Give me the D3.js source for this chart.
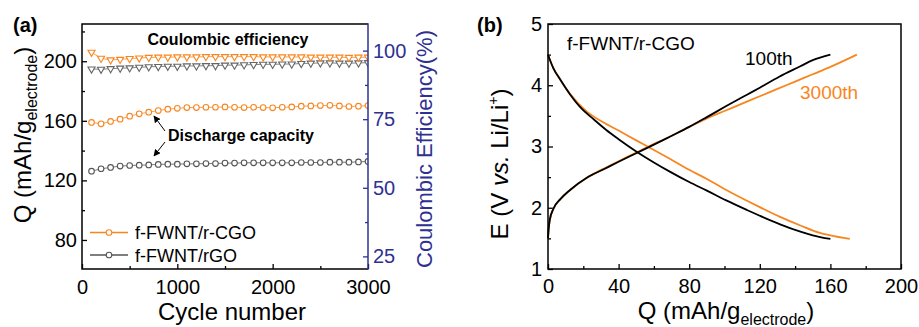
<!DOCTYPE html>
<html>
<head>
<meta charset="utf-8">
<script src="https://cdn.jsdelivr.net/npm/d3@7"></script>
<style>
  body { margin: 0; background: #fff; }
  text { font-family: "Liberation Sans", Arial, sans-serif; }
</style>
</head>
<body>
<svg id="chart" width="919" height="327"></svg>
<script>
// ---- panel (a) data: cycling ----
var cycles = [100, 200, 300, 400, 500, 600, 700, 800, 900, 1000,
  1100, 1200, 1300, 1400, 1500, 1600, 1700, 1800, 1900, 2000,
  2100, 2200, 2300, 2400, 2500, 2600, 2700, 2800, 2900, 3000];
var capCGO = [158.9, 158.0, 159.6, 161.1, 163.1, 164.7, 165.8, 166.9, 167.8, 168.4,
  168.9, 168.9, 169.1, 169.1, 169.3, 169.1, 168.9, 169.1, 168.9, 168.7,
  169.1, 169.3, 169.8, 170.0, 170.2, 170.4, 170.0, 169.6, 169.8, 170.2];
var capRGO = [126.2, 127.8, 128.7, 129.6, 130.0, 130.2, 130.4, 130.7, 130.9, 130.9,
  131.1, 131.1, 131.3, 131.3, 131.6, 131.6, 131.8, 131.8, 131.8, 131.8,
  131.8, 131.8, 132.0, 132.0, 132.0, 132.2, 132.2, 132.2, 132.4, 132.7];
var ceCGO = [99.4, 97.2, 96.6, 96.8, 97.1, 97.3, 97.5, 97.6, 97.6, 97.7,
  97.7, 97.7, 97.8, 97.8, 97.8, 97.8, 97.8, 97.8, 97.7, 97.7,
  97.7, 97.7, 97.7, 97.6, 97.6, 97.6, 97.6, 97.5, 97.6, 97.6];
var ceRGO = [93.3, 93.2, 93.4, 93.6, 93.7, 93.9, 94.1, 94.2, 94.3, 94.3,
  94.4, 94.4, 94.5, 94.5, 94.7, 94.7, 94.8, 94.9, 95.0, 95.0,
  95.1, 95.1, 95.3, 95.4, 95.5, 95.5, 95.4, 95.4, 95.5, 95.6];

var cycleTicks = [0, 1000, 2000, 3000];
var capTicks = [80, 120, 160, 200];
var ceTicks = [25, 50, 75, 100];

// ---- panel (b) data: voltage profiles [Q, E] ----
var charge100 = [[0, 1.5], [0.4, 1.66], [1, 1.8], [3, 1.98], [7, 2.14], [12.5, 2.29], [22, 2.49],
  [31, 2.62], [40, 2.75], [50, 2.89], [60, 3.03], [69, 3.16], [80, 3.32], [90, 3.48],
  [101, 3.66], [113, 3.85], [120, 3.96], [131, 4.14], [143, 4.31], [150, 4.41], [160, 4.5]];
var discharge100 = [[0, 4.5], [1, 4.42], [3, 4.28], [7, 4.09], [12.5, 3.85], [18, 3.65], [26, 3.44],
  [33, 3.27], [40, 3.12], [50, 2.92], [60, 2.74], [69, 2.59], [80, 2.42], [90, 2.28],
  [101, 2.12], [113, 1.96], [120, 1.87], [131.5, 1.73], [143, 1.61], [150, 1.55], [160, 1.49]];
var charge3000 = [[0, 1.5], [0.4, 1.66], [1, 1.8], [3, 1.98], [7, 2.14], [12.5, 2.29], [22, 2.49],
  [31, 2.63], [40, 2.76], [50, 2.9], [57, 3.0], [69, 3.16], [80, 3.32], [90, 3.46],
  [100, 3.58], [110, 3.7], [120, 3.82], [130, 3.94], [140, 4.06], [150, 4.18], [160, 4.3], [175, 4.5]];
var discharge3000 = [[0, 4.5], [1, 4.42], [3, 4.28], [7, 4.09], [12.5, 3.86], [22, 3.57],
  [31, 3.4], [40, 3.26], [50, 3.1], [57, 2.99], [69, 2.8], [80, 2.62], [90, 2.47],
  [101, 2.29], [113, 2.11], [120, 2.01], [131.5, 1.85], [143, 1.71], [154, 1.59], [160, 1.55], [171, 1.49]];

var qTicks = [0, 40, 80, 120, 160, 200];
var eTicks = [1, 2, 3, 4, 5];

var orange = "#f7861f", grey = "#555", blue = "#2e3192";
var fmt = d3.format("d");

var svg = d3.select("#chart");

// arrow head
svg.append("defs").append("marker")
  .attr("id", "arr").attr("viewBox", "0 0 10 10")
  .attr("refX", 9).attr("refY", 5)
  .attr("markerWidth", 7).attr("markerHeight", 7)
  .attr("orient", "auto")
  .append("path").attr("d", "M0,0L10,5L0,10z").attr("fill", "#000");

// =========== panel (a) ===========
var xA = d3.scaleLinear().domain([0, 3000]).range([82, 368]);
var yA = d3.scaleLinear().domain([60.5, 225]).range([269, 24]);
var yCE = d3.scaleLinear().domain([20.4, 109.7]).range([269, 24]);

svg.append("clipPath").attr("id", "clipA")
  .append("rect").attr("x", 82).attr("y", 24).attr("width", 286).attr("height", 245);

function styleAxis(g, size, color) {
  g.select(".domain").remove();
  g.selectAll("line").attr("stroke", color).attr("stroke-width", 1.3);
  g.selectAll("text").attr("font-size", size).attr("fill", color)
    .style("font-family", '"Liberation Sans", Arial, sans-serif');
}

// minor ticks
svg.append("g").attr("transform", "translate(0,269)")
  .call(d3.axisBottom(xA).tickValues([500, 1500, 2500]).tickFormat("").tickSize(-3))
  .call(styleAxis, 20, "#000");
svg.append("g").attr("transform", "translate(82,0)")
  .call(d3.axisLeft(yA).tickValues([100, 140, 180, 220]).tickFormat("").tickSize(-3))
  .call(styleAxis, 20, "#000");
svg.append("g").attr("transform", "translate(368,0)")
  .call(d3.axisRight(yCE).tickValues([37.5, 62.5, 87.5]).tickFormat("").tickSize(-3))
  .call(styleAxis, 20, blue);

// major ticks
svg.append("g").attr("transform", "translate(0,269)")
  .call(d3.axisBottom(xA).tickValues(cycleTicks).tickFormat(fmt).tickSize(-5).tickPadding(11))
  .call(styleAxis, 20, "#000");
svg.append("g").attr("transform", "translate(82,0)")
  .call(d3.axisLeft(yA).tickValues(capTicks).tickFormat(fmt).tickSize(-5).tickPadding(5))
  .call(styleAxis, 20, "#000");
svg.append("g").attr("transform", "translate(368,0)")
  .call(d3.axisRight(yCE).tickValues(ceTicks).tickFormat(fmt).tickSize(-5).tickPadding(5))
  .call(styleAxis, 20, blue);

// data
var plotA = svg.append("g").attr("clip-path", "url(#clipA)");

function series(g, vals, yScale, color, kind) {
  var pts = cycles.map(function(c, i) { return [xA(c), yScale(vals[i])]; });
  g.append("path").attr("d", d3.line()(pts))
    .attr("fill", "none").attr("stroke", color).attr("stroke-width", 0.8);
  if (kind === "circle") {
    g.selectAll(null).data(pts).enter().append("circle")
      .attr("cx", function(d) { return d[0]; }).attr("cy", function(d) { return d[1]; })
      .attr("r", 2.8).attr("fill", "#fff").attr("stroke", color).attr("stroke-width", 1.1);
  } else {
    g.selectAll(null).data(pts).enter().append("path")
      .attr("d", d3.symbol().type(d3.symbolTriangle).size(22))
      .attr("transform", function(d) { return "translate(" + d[0] + "," + d[1] + ") rotate(180)"; })
      .attr("fill", "#fff").attr("stroke", color).attr("stroke-width", 1.1);
  }
}
series(plotA, capRGO, yA, grey, "circle");
series(plotA, capCGO, yA, orange, "circle");
series(plotA, ceRGO, yCE, "#666", "tri");
series(plotA, ceCGO, yCE, orange, "tri");

// frame
svg.append("path").attr("d", "M368,24H82V269H368")
  .attr("fill", "none").attr("stroke", "#000").attr("stroke-width", 1.5);
svg.append("line").attr("x1", 368).attr("x2", 368).attr("y1", 23.3).attr("y2", 269.7)
  .attr("stroke", blue).attr("stroke-width", 1.5);

// annotations
svg.append("text").attr("x", 228).attr("y", 45).attr("text-anchor", "middle")
  .attr("font-size", 16).attr("font-weight", "bold").text("Coulombic efficiency");
svg.append("text").attr("x", 168).attr("y", 141)
  .attr("font-size", 16).attr("font-weight", "bold").text("Discharge capacity");
svg.append("line").attr("x1", 165).attr("y1", 131).attr("x2", 154).attr("y2", 116)
  .attr("stroke", "#000").attr("stroke-width", 1).attr("marker-end", "url(#arr)");
svg.append("line").attr("x1", 165).attr("y1", 142).attr("x2", 154).attr("y2", 156)
  .attr("stroke", "#000").attr("stroke-width", 1).attr("marker-end", "url(#arr)");

// legend
var legendA = [["f-FWNT/r-CGO", orange, 232.5], ["f-FWNT/rGO", grey, 255]];
legendA.forEach(function(l) {
  svg.append("line").attr("x1", 90).attr("x2", 128).attr("y1", l[2]).attr("y2", l[2])
    .attr("stroke", l[1]).attr("stroke-width", 1.5);
  svg.append("circle").attr("cx", 109).attr("cy", l[2]).attr("r", 2.8)
    .attr("fill", "#fff").attr("stroke", l[1]).attr("stroke-width", 1.1);
  svg.append("text").attr("x", 135).attr("y", l[2] + 6.5).attr("font-size", 18).text(l[0]);
});

// axis titles
svg.append("text").attr("x", 232).attr("y", 320).attr("text-anchor", "middle")
  .attr("font-size", 24).text("Cycle number");
var tq = svg.append("text").attr("transform", "translate(31,135) rotate(-90)")
  .attr("text-anchor", "middle").attr("font-size", 24);
tq.append("tspan").text("Q (mAh/g");
tq.append("tspan").attr("font-size", 16).attr("dy", 6).text("electrode");
tq.append("tspan").attr("dy", -6).text(")");
svg.append("text").attr("transform", "translate(432,149) rotate(-90)")
  .attr("text-anchor", "middle").attr("font-size", 22).attr("fill", blue)
  .text("Coulombic Efficiency(%)");
svg.append("text").attr("x", 13).attr("y", 32).attr("font-size", 20)
  .attr("font-weight", "bold").text("(a)");

// =========== panel (b) ===========
var xB = d3.scaleLinear().domain([0, 200]).range([548, 901]);
var yB = d3.scaleLinear().domain([1, 5]).range([269, 24]);

svg.append("g").attr("transform", "translate(0,269)")
  .call(d3.axisBottom(xB).tickValues([20, 60, 100, 140, 180]).tickFormat("").tickSize(-3))
  .call(styleAxis, 20, "#000");
svg.append("g").attr("transform", "translate(548,0)")
  .call(d3.axisLeft(yB).tickValues([1.5, 2.5, 3.5, 4.5]).tickFormat("").tickSize(-3))
  .call(styleAxis, 20, "#000");
svg.append("g").attr("transform", "translate(0,269)")
  .call(d3.axisBottom(xB).tickValues(qTicks).tickFormat(fmt).tickSize(-5).tickPadding(10))
  .call(styleAxis, 20, "#000");
svg.append("g").attr("transform", "translate(548,0)")
  .call(d3.axisLeft(yB).tickValues(eTicks).tickFormat(fmt).tickSize(-5).tickPadding(6))
  .call(styleAxis, 20, "#000");

var lineB = d3.line()
  .x(function(d) { return xB(d[0]); })
  .y(function(d) { return yB(d[1]); })
  .curve(d3.curveMonotoneX);
[[charge3000, orange], [discharge3000, orange], [charge100, "#000"], [discharge100, "#000"]]
  .forEach(function(s) {
    svg.append("path").attr("d", lineB(s[0])).attr("fill", "none")
      .attr("stroke", s[1]).attr("stroke-width", 1.8);
  });

svg.append("rect").attr("x", 548).attr("y", 24).attr("width", 353).attr("height", 245)
  .attr("fill", "none").attr("stroke", "#000").attr("stroke-width", 1.5);

svg.append("text").attr("x", 567).attr("y", 50).attr("font-size", 19).text("f-FWNT/r-CGO");
svg.append("text").attr("x", 745).attr("y", 65).attr("font-size", 19).text("100th");
svg.append("text").attr("x", 800).attr("y", 99).attr("font-size", 19).attr("fill", orange).text("3000th");

var tqb = svg.append("text").attr("x", 726).attr("y", 318.5)
  .attr("text-anchor", "middle").attr("font-size", 24);
tqb.append("tspan").text("Q (mAh/g");
tqb.append("tspan").attr("font-size", 16).attr("dy", 6).text("electrode");
tqb.append("tspan").attr("dy", -6).text(")");

var te = svg.append("text").attr("transform", "translate(508,164) rotate(-90)")
  .attr("text-anchor", "middle").attr("font-size", 24);
te.append("tspan").text("E (V ");
te.append("tspan").attr("font-style", "italic").text("vs.");
te.append("tspan").text(" Li/Li");
te.append("tspan").attr("font-size", 14).attr("dy", -10).text("+");
te.append("tspan").attr("dy", 10).text(")");

svg.append("text").attr("x", 477).attr("y", 32).attr("font-size", 20)
  .attr("font-weight", "bold").text("(b)");
</script>
</body>
</html>
